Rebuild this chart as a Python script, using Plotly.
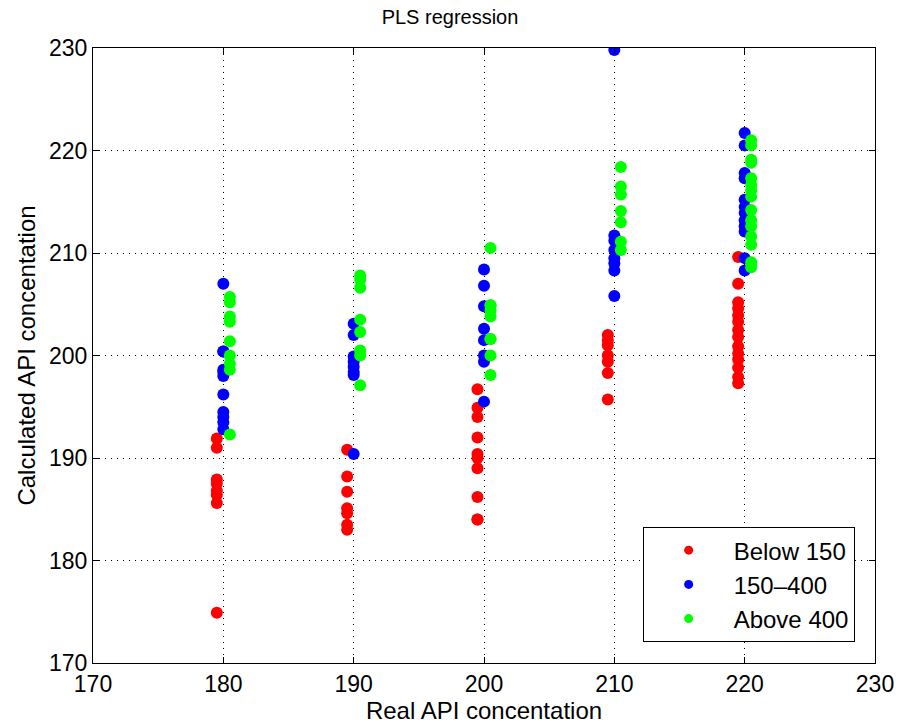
import plotly.graph_objects as go

# Real API concentration groups
x_levels = [180, 190, 200, 210, 220]

below150_x = [180]*8 + [190]*7 + [200]*10 + [210]*7 + [220]*14
below150_y = [191.9, 191.0, 187.9, 187.5, 186.8, 186.4, 185.6, 174.9,
              190.8, 188.2, 186.7, 185.1, 184.6, 183.5, 183.0,
              196.7, 194.9, 194.0, 192.0, 190.4, 190.0, 189.0, 186.2, 184.0, 184.0,
              202.0, 201.5, 201.0, 200.0, 199.4, 198.3, 195.7,
              209.6, 207.0, 205.2, 204.6, 203.9, 203.3, 202.5, 201.8, 200.9, 200.2, 199.6, 198.8, 197.9, 197.3]

mid_x = [180]*11 + [190]*8 + [200]*8 + [210]*8 + [220]*12
mid_y = [207.0, 200.4, 198.6, 198.0, 196.2, 194.5, 194.0, 193.5, 192.8, 200.4, 198.4,
         203.1, 202.0, 199.9, 199.4, 198.9, 198.4, 198.1, 190.4,
         208.4, 206.8, 204.8, 202.6, 201.5, 200.0, 199.4, 195.5,
         229.8, 211.7, 211.2, 210.3, 209.0, 208.3, 205.8, 209.5,
         221.7, 220.5, 217.8, 217.3, 215.2, 214.5, 213.9, 213.2, 212.6, 212.1, 209.5, 208.3]

above400_x = [180]*9 + [190]*8 + [200]*9 + [210]*7 + [220]*15
above400_y = [205.7, 205.2, 203.8, 203.3, 201.4, 200.0, 199.2, 198.6, 192.3,
              207.8, 207.4, 206.6, 203.5, 202.3, 200.5, 200.0, 197.1,
              210.5, 204.9, 204.4, 203.8, 201.6, 200.0, 198.1, 204.9, 201.6,
              218.4, 216.5, 215.7, 214.1, 213.0, 211.1, 210.3,
              221.0, 220.5, 219.1, 218.8, 217.3, 216.6, 216.1, 215.5, 214.2, 213.2, 212.6, 211.6, 210.8, 209.1, 208.6]

series_names = ["Below 150", "150\u2013400", "Above 400"]
series_colors = ["#ff0000", "#0000ff", "#00ff00"]
series_offsets = [-0.5, 0.0, 0.5]

x_ticks = [170, 180, 190, 200, 210, 220, 230]
y_ticks = [170, 180, 190, 200, 210, 220, 230]

fig = go.Figure()
data = [(below150_x, below150_y), (mid_x, mid_y), (above400_x, above400_y)]
for (xs, ys), name, col, off in zip(data, series_names, series_colors, series_offsets):
    fig.add_trace(go.Scatter(
        x=[v + off for v in xs], y=ys, mode="markers", name=name,
        marker=dict(color=col, size=12, line=dict(width=0)),
        showlegend=False, legendgroup=name,
    ))
# legend entries with smaller symbols (as in the original)
for name, col in zip(series_names, series_colors):
    fig.add_trace(go.Scatter(
        x=[None], y=[None], mode="markers", name=name, legendgroup=name,
        marker=dict(color=col, size=9, line=dict(width=0)),
    ))

font = "Liberation Sans, Arial, Helvetica, sans-serif"
axis_common = dict(
    showline=True, linecolor="black", linewidth=1, mirror="allticks",
    ticks="inside", ticklen=6, tickcolor="black",
    showgrid=True, gridcolor="black", gridwidth=1, griddash="1px,5px",
    zeroline=False, automargin=False,
    tickfont=dict(size=23, color="black", family=font),
)
fig.update_xaxes(range=[170, 230], tickvals=x_ticks,
                 title=dict(text="Real API concentation", font=dict(size=24, color="black", family=font), standoff=6),
                 **axis_common)
fig.update_yaxes(range=[170, 230], tickvals=y_ticks,
                 title=dict(text="Calculated API concentation", font=dict(size=24, color="black", family=font), standoff=6),
                 **axis_common)

fig.update_layout(
    width=900, height=727,
    margin=dict(l=93, r=25, t=48, b=64),
    paper_bgcolor="white", plot_bgcolor="white",
    title=dict(text="PLS regression", x=0.5, xref="container", xanchor="center",
               y=1 - 17/727, yanchor="middle",
               font=dict(size=20, color="black", family=font)),
    legend=dict(x=0.974, y=0.034, xanchor="right", yanchor="bottom",
                bgcolor="white", bordercolor="black", borderwidth=1,
                font=dict(size=24, color="black", family=font),
                itemwidth=80, tracegroupgap=0),
    showlegend=True,
)

fig.write_html("out.html")
